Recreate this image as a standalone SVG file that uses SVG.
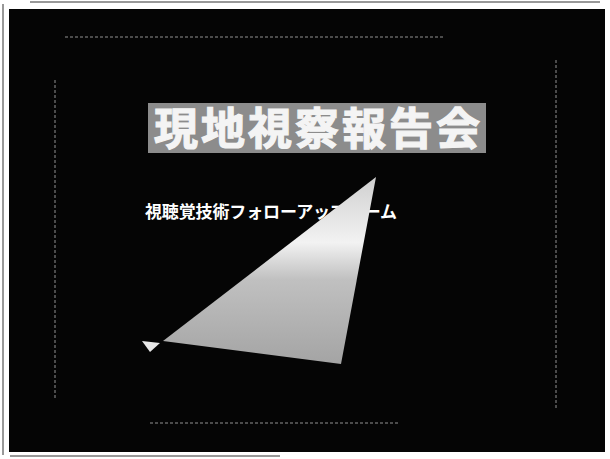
<svg xmlns="http://www.w3.org/2000/svg" width="610" height="459" viewBox="0 0 610 459">
<defs>
<style>
.jp{font-family:"Noto Sans CJK JP","Noto Sans CJK SC",sans-serif;}
.faint{stroke:#8a8a8a;stroke-width:1.5;stroke-dasharray:3 2;fill:none;opacity:0.7;}
</style>
<linearGradient id="beam" x1="0" y1="0" x2="0" y2="1">
<stop offset="0" stop-color="#d0d0d0"/>
<stop offset="0.35" stop-color="#f2f2f2"/>
<stop offset="0.55" stop-color="#c0c0c0"/>
<stop offset="1" stop-color="#a4a4a4"/>
</linearGradient>
</defs>
<rect x="0" y="0" width="610" height="459" fill="#ffffff"/>
<g id="page-edges" stroke="#333" stroke-width="1" fill="none">
<line x1="3" y1="4" x2="3" y2="455"/>
<line x1="30" y1="2" x2="600" y2="2"/>
<line x1="10" y1="456" x2="280" y2="456"/>
</g>
<g id="slide">
<rect x="9" y="9" width="596" height="443" fill="#050505"/>
<line class="faint" x1="65" y1="37" x2="445" y2="37"/>
<line class="faint" x1="150" y1="423" x2="400" y2="423"/>
<line class="faint" x1="55" y1="80" x2="55" y2="400"/>
<line class="faint" x1="556" y1="60" x2="556" y2="410"/>
</g>
<g id="title">
<rect x="148" y="103" width="338" height="50" fill="#8c8c8c"/>
<text class="jp" x="317" y="145" font-size="44" font-weight="700" fill="#f4f4f4" stroke="#f4f4f4" stroke-width="1.2" text-anchor="middle" textLength="326" lengthAdjust="spacing">現地視察報告会</text>
</g>
<g id="subtitle">
<text class="jp" x="145" y="218" font-size="17" font-weight="700" fill="#ffffff" textLength="252" lengthAdjust="spacing">視聴覚技術フォローアップチーム</text>
</g>
<g id="beam">
<polygon points="376,177 163,341 341,364" fill="url(#beam)"/>
<polygon points="142,341 160,343 150,352" fill="#e8e8e8"/>
</g>
</svg>
